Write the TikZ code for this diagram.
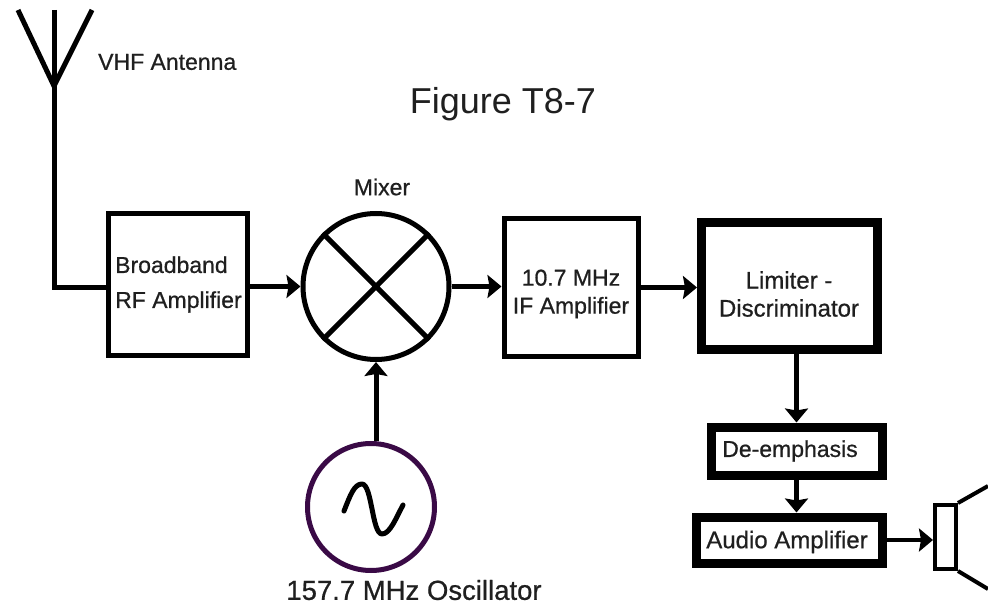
\documentclass[tikz,border=0pt]{standalone}
\usepackage{fontspec}
\setmainfont{Liberation Sans}
\newfontfamily\heavyfont[FakeBold=0.7]{Liberation Sans}
\usetikzlibrary{arrows.meta}
\definecolor{oscpurple}{HTML}{3A0A46}
\tikzset{
  x=1pt,y=-1pt,
  blk/.style={draw=black,fill=white,inner sep=0pt,line join=miter},
  thinblk/.style={blk,line width=5pt},
  thickblk/.style={blk,line width=9pt},
  lbl/.style={inner sep=0pt,font=\heavyfont\fontsize{23}{28}\selectfont,text=black!88},
  wire/.style={line width=5pt,draw=black},
  arr/.style={wire,-{Stealth[length=14pt,width=23pt,inset=2pt]}},
}
\begin{document}
\begin{tikzpicture}
\useasboundingbox (0,0) rectangle (988,604);
\clip (0,0) rectangle (988,604);
% blocks
\node[thinblk,minimum width=139pt,minimum height=141pt] (bb) at (178,284.5) {};
\node[thinblk,circle,minimum size=146pt] (mix) at (376,286.5) {};
\node[thinblk,minimum width=134pt,minimum height=137pt] (ifa) at (571,287.5) {};
\node[thickblk,minimum width=176pt,minimum height=127pt] (lim) at (789.5,286) {};
\node[thickblk,minimum width=171pt,minimum height=48pt] (dee) at (796.5,451) {};
\node[thickblk,minimum width=185.5pt,minimum height=46pt] (aud) at (789.5,540) {};
\node[draw=oscpurple,fill=white,line width=5pt,circle,inner sep=0pt,minimum size=127pt] (osc) at (371,507) {};
\node[draw=black,line width=4pt,inner sep=0pt,minimum width=21pt,minimum height=64pt] (spk) at (945.5,537) {};
% mixer cross
\draw[line width=5pt] (mix.45) -- (mix.225) (mix.135) -- (mix.315);
% sine
\draw[line width=5pt,line cap=round,line join=round] (344,511)
  .. controls (350,496) and (354,484) .. (362,484)
  .. controls (372,484) and (372,534) .. (382,534)
  .. controls (390,534) and (396,518) .. (403,505);
% antenna
\coordinate (antbase) at (54,86);
\coordinate (antstem) at (54,10);
\coordinate (antl) at (18,10);
\coordinate (antr) at (92,10);
\coordinate (antcorner) at (54,287);
\draw[line width=5pt,line join=miter] (antl) -- (antbase) -- (antr);
\draw[wire] (antstem) -- (antbase);
\draw[wire,line join=miter] (antbase) -- (antcorner) -- (bb.west |- antcorner);
% speaker cone
\coordinate (conetop) at (988,486);
\coordinate (conebot) at (988,589);
\draw[line width=4pt] (spk.north east) -- (conetop);
\draw[line width=4pt] (spk.south east) -- (conebot);
% connectors
\draw[arr] (bb.east |- mix.west) -- (mix.west);
\draw[arr] (mix.east) -- (ifa.west |- mix.east);
\draw[arr] (ifa.east) -- (lim.west |- ifa.east);
\draw[arr] (mix.south |- osc.north) -- (mix.south);
\draw[arr] (dee.north |- lim.south) -- (dee.north);
\draw[arr] (dee.south) -- (dee.south |- aud.north);
\draw[arr,line width=4pt] (aud.east) -- (spk.west |- aud.east);
% labels
\node[lbl,anchor=west,align=left] (t1) at (115,284.5) {Broadband\\[7pt]RF Amplifier};
\node[lbl,align=center] (t2) at (571,294) {10.7 MHz\\IF Amplifier};
\node[lbl,align=center,font=\heavyfont\fontsize{24}{28}\selectfont] (t3) at (789,294) {Limiter -\\Discriminator};
\node[lbl] (t4) at (790,451) {De-emphasis};
\node[lbl,font=\heavyfont\fontsize{24}{28}\selectfont] (t5) at (787,542) {Audio Amplifier};
\node[lbl] (t6) at (382,187) {Mixer};
\node[lbl,anchor=west] (t7) at (98,62) {VHF Antenna};
\node[lbl,font=\heavyfont\fontsize{27.5}{33}\selectfont] (t8) at (414,590) {157.7 MHz Oscillator};
\node[lbl,font=\fontsize{36}{43}\selectfont] (t9) at (503,104) {Figure T8-7};
\end{tikzpicture}
\end{document}
